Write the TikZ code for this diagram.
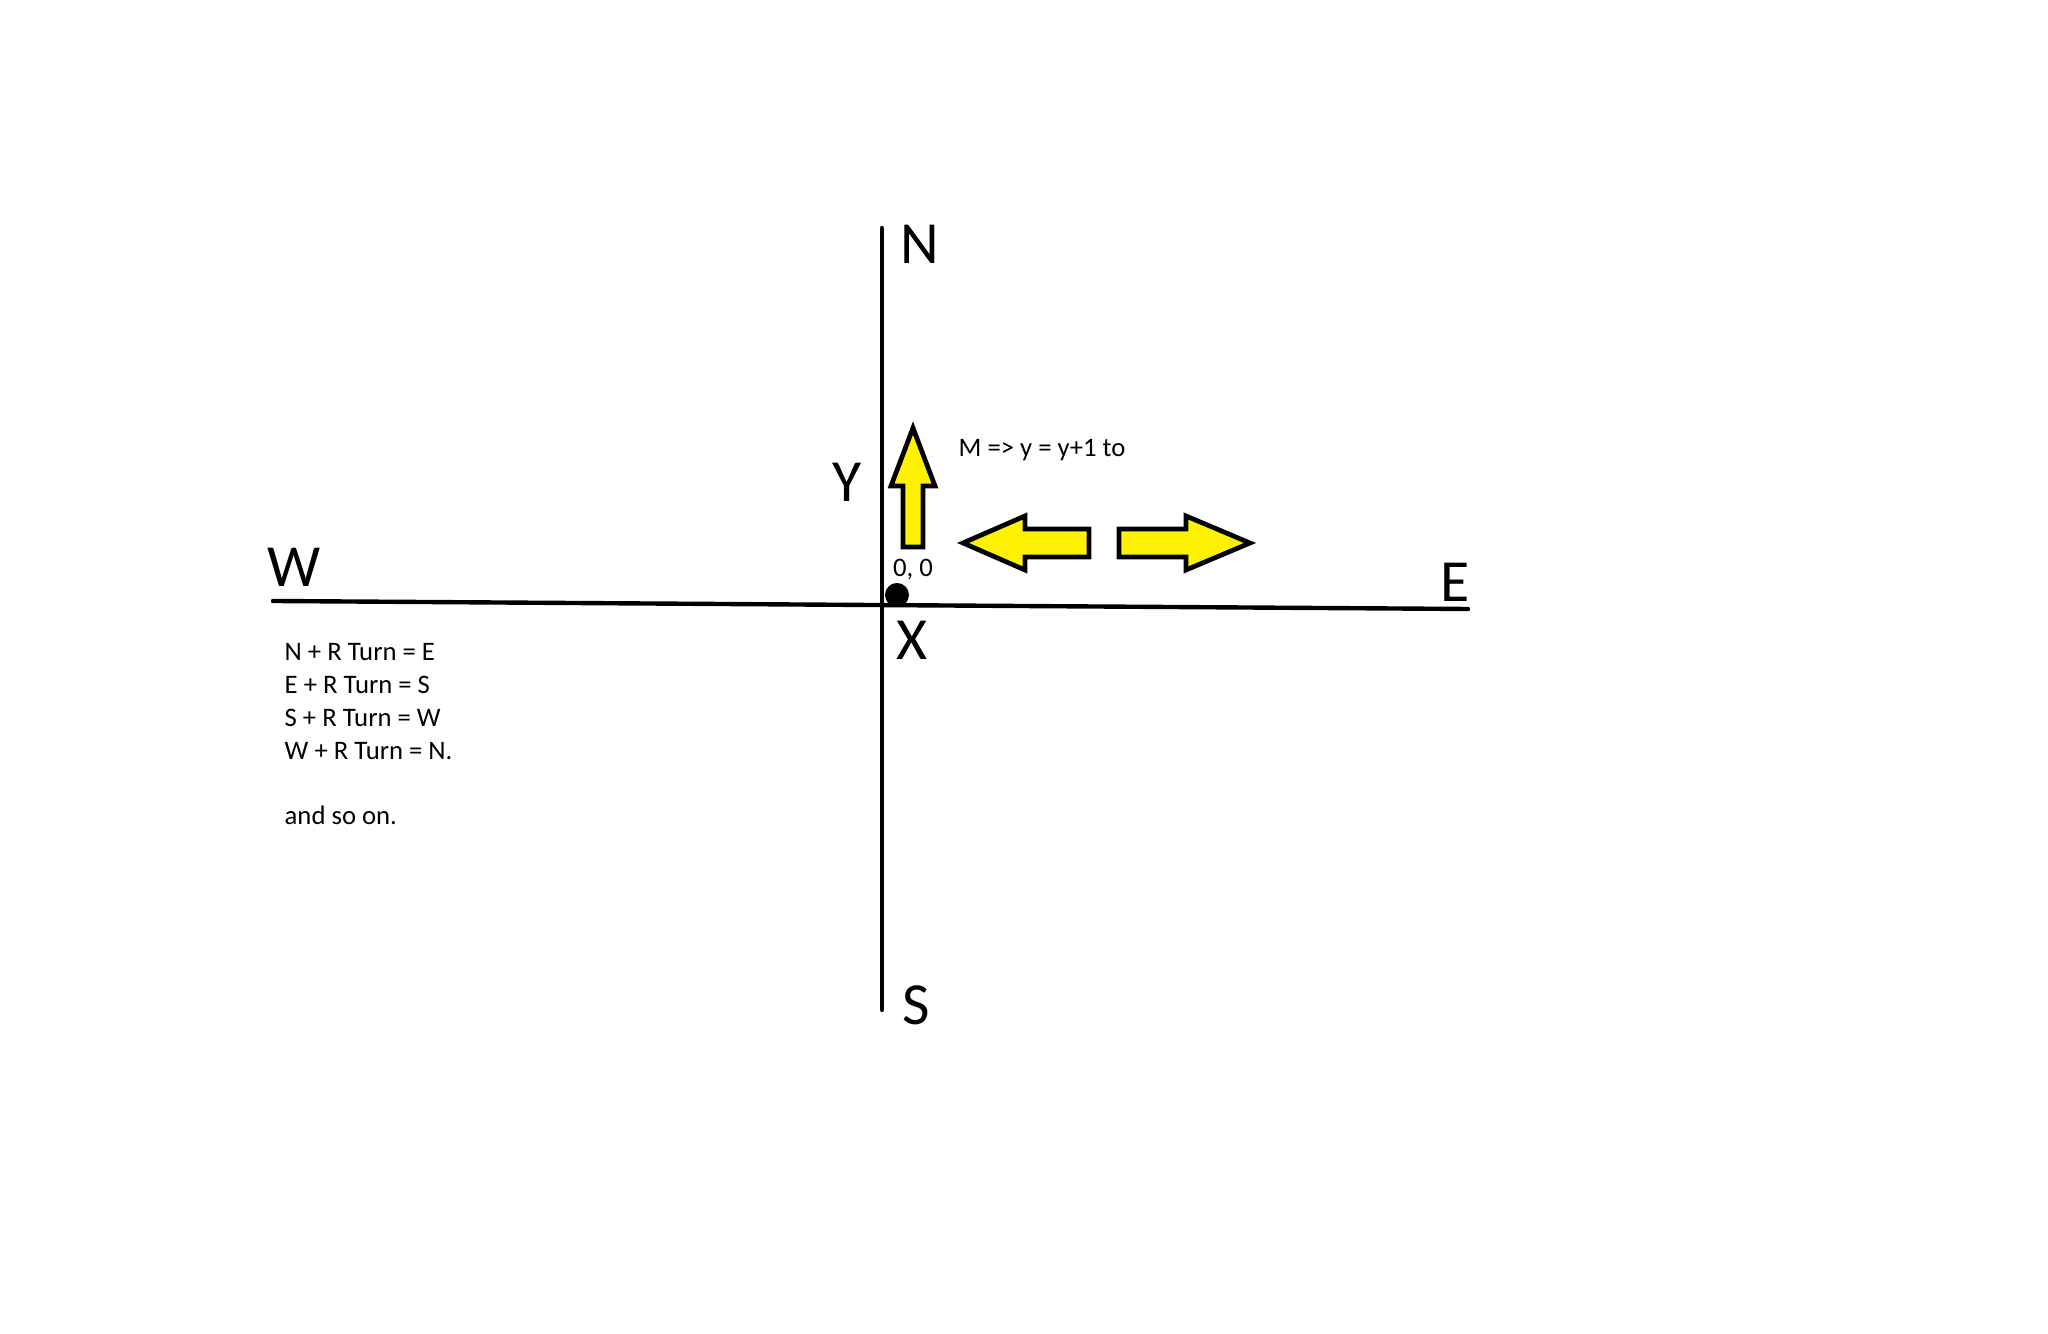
\documentclass[tikz,border=0pt]{standalone}
\usepackage{fontspec}
\setmainfont{Carlito}
\definecolor{paintyellow}{RGB}{255,242,0}
\tikzset{
  axis/.style={line width=1.25pt, line cap=round},
  bigletter/.style={font=\fontsize{17}{20}\selectfont, inner sep=0pt},
  note/.style={font=\fontsize{7.6}{9}\selectfont, inner sep=0pt, anchor=base west},
  fatarrow/.style={fill=paintyellow, draw=black, line width=1.35pt, line join=miter}
}
\begin{document}
\begin{tikzpicture}
    \path[use as bounding box, fill=white] (-8.82,-7.30) rectangle (11.66,6.04);

    % axes
    \coordinate (top) at (0,3.76);
    \coordinate (bottom) at (0,-4.06);
    \coordinate (left) at (-6.09,0.03);
    \coordinate (right) at (5.86,-0.05);
    \draw[axis] (top) -- (bottom);
    \draw[axis] (left) -- (right);

    \node[bigletter] (lblN) at (0.38,3.60) {N};
    \node[bigletter] (lblS) at (0.34,-4.01) {S};
    \node[bigletter] (lblW) at (-5.88,0.37) {W};
    \node[bigletter] (lblE) at (5.73,0.22) {E};
    \node[bigletter] (lblY) at (-0.35,1.22) {Y};
    \node[bigletter] (lblX) at (0.30,-0.36) {X};

    % origin
    \fill (0.15,0.09) circle (0.12);
    \node[note, anchor=base] (origin) at (0.31,0.27) {0, 0};

    % moves
    \draw[fatarrow] (0.31,1.76) -- (0.53,1.18) -- (0.41,1.18) -- (0.41,0.57)
      -- (0.21,0.57) -- (0.21,1.18) -- (0.09,1.18) -- cycle;
    \draw[fatarrow] (0.81,0.61) -- (1.43,0.88) -- (1.43,0.75) -- (2.07,0.75)
      -- (2.07,0.47) -- (1.43,0.47) -- (1.43,0.34) -- cycle;
    \draw[fatarrow] (3.68,0.61) -- (3.04,0.88) -- (3.04,0.75) -- (2.37,0.75)
      -- (2.37,0.47) -- (3.04,0.47) -- (3.04,0.34) -- cycle;
    \node[note] (move) at (0.76,1.47) {M => y = y+1 to};

    % turns
    \foreach \y/\t/\n in {
        -0.57/N + R Turn = E/turnN,
        -0.90/E + R Turn = S/turnE,
        -1.23/S + R Turn = W/turnS,
        -1.56/W + R Turn = N./turnW,
        -2.21/and so on./turnRest}{
      \node[note] (\n) at (-5.98,\y) {\t};
    }
  \end{tikzpicture}
\end{document}
